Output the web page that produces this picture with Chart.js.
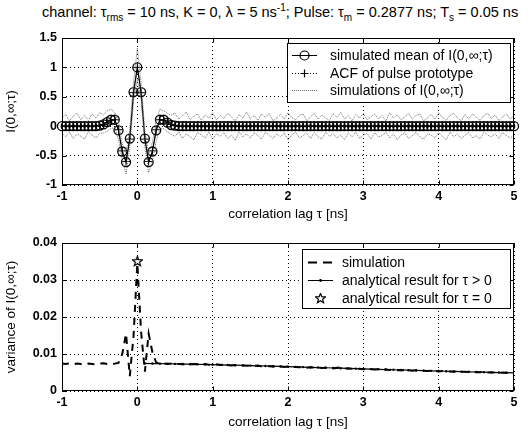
<!DOCTYPE html>
<html>
<head>
<meta charset="utf-8">
<script src="https://cdn.jsdelivr.net/npm/chart.js@4.4.0/dist/chart.umd.min.js"></script>
<style>
  body { margin: 0; background: #fff; width: 531px; height: 435px; overflow: hidden; position: relative; }
  #title { position: absolute; left: 42px; top: 2px; white-space: nowrap; font: 14.5px "Liberation Sans", Arial, sans-serif; color: #000; }
  #title sub, #title sup { font-size: 10px; }
  canvas { position: absolute; left: 0; }
  #c1 { top: 0; }
  #c2 { top: 225px; }
</style>
</head>
<body>
<div id="title">channel: &tau;<sub>rms</sub> = 10 ns, K = 0, &lambda; = 5 ns<sup>-1</sup>; Pulse: &tau;<sub>m</sub> = 0.2877 ns; T<sub>s</sub> = 0.05 ns</div>
<canvas id="c1" width="531" height="225"></canvas>
<canvas id="c2" width="531" height="210"></canvas>
<script>
// SAMPLE GRID (lag tau in ns)
const TAU0 = -1;
const TS = 0.05;

// TOP PLOT DATA
const topYTicks = [-1, -0.5, 0, 0.5, 1, 1.5];
const xTicks = [-1, 0, 1, 2, 3, 4, 5];

const meanI = [
  0,0,0,0,0,0,0,0,0,0,0.01,
  0.03,0.07,0.11,0.11,-0.07,-0.43,-0.61,-0.21,0.58,
  1.0,
  0.58,-0.21,-0.61,-0.43,-0.07,0.11,0.11,0.06,0.02,
  0.01,0,0,0,0,0,0,0,0,0,
  0,0,0,0,0,0,0,0,0,0,
  0,0,0,0,0,0,0,0,0,0,
  0,0,0,0,0,0,0,0,0,0,
  0,0,0,0,0,0,0,0,0,0,
  0,0,0,0,0,0,0,0,0,0,
  0,0,0,0,0,0,0,0,0,0,
  0,0,0,0,0,0,0,0,0,0,
  0,0,0,0,0,0,0,0,0,0,0
];

const pulseACF = [
  0,0,0,0,0,0,0,0,0,0,0.01,
  0.03,0.06,0.1,0.11,-0.06,-0.42,-0.6,-0.22,0.57,
  1.0,
  0.57,-0.22,-0.6,-0.42,-0.06,0.11,0.1,0.06,0.03,
  0.01,0,0,0,0,0,0,0,0,0,
  0,0,0,0,0,0,0,0,0,0,
  0,0,0,0,0,0,0,0,0,0,
  0,0,0,0,0,0,0,0,0,0,
  0,0,0,0,0,0,0,0,0,0,
  0,0,0,0,0,0,0,0,0,0,
  0,0,0,0,0,0,0,0,0,0,
  0,0,0,0,0,0,0,0,0,0,
  0,0,0,0,0,0,0,0,0,0,0
];

const simA = [
  0.14,0.2,0.09,0.17,0.22,0.11,0.18,0.1,0.21,0.14,0.23,
  0.19,0.26,0.29,0.23,0.08,-0.3,-0.45,-0.05,0.74,
  1.33,
  0.72,-0.08,-0.47,-0.28,0.12,0.29,0.26,0.22,0.19,
  0.22,0.12,0.18,0.24,0.11,0.17,0.21,0.1,0.19,0.14,
  0.23,0.11,0.18,0.13,0.22,0.16,0.09,0.2,0.14,0.24,
  0.12,0.18,0.1,0.21,0.15,0.22,0.09,0.14,0.2,0.12,
  0.23,0.15,0.11,0.18,0.21,0.09,0.16,0.22,0.12,0.19,
  0.14,0.1,0.21,0.15,0.24,0.12,0.18,0.09,0.2,0.14,
  0.22,0.11,0.16,0.21,0.12,0.18,0.09,0.23,0.14,0.19,
  0.11,0.16,0.22,0.12,0.18,0.21,0.09,0.14,0.2,0.12,
  0.23,0.15,0.1,0.18,0.22,0.14,0.09,0.2,0.12,0.21,
  0.15,0.1,0.18,0.22,0.13,0.19,0.09,0.16,0.21,0.12,0.18
];

const simB = [
  -0.12,-0.18,-0.1,-0.21,-0.13,-0.17,-0.22,-0.09,-0.15,-0.2,-0.12,
  -0.12,-0.08,-0.04,-0.02,-0.22,-0.58,-0.82,-0.36,0.43,
  0.8,
  0.45,-0.36,-0.79,-0.6,-0.25,-0.05,-0.04,-0.1,-0.14,
  -0.17,-0.1,-0.21,-0.13,-0.18,-0.23,-0.11,-0.15,-0.2,-0.1,
  -0.22,-0.13,-0.17,-0.11,-0.21,-0.15,-0.24,-0.1,-0.18,-0.13,
  -0.2,-0.11,-0.16,-0.22,-0.1,-0.15,-0.21,-0.13,-0.18,-0.11,
  -0.23,-0.15,-0.1,-0.2,-0.16,-0.12,-0.21,-0.11,-0.18,-0.22,
  -0.1,-0.17,-0.13,-0.2,-0.15,-0.23,-0.11,-0.18,-0.1,-0.21,
  -0.15,-0.12,-0.22,-0.11,-0.18,-0.16,-0.1,-0.2,-0.13,-0.23,
  -0.15,-0.11,-0.21,-0.16,-0.1,-0.18,-0.22,-0.13,-0.15,-0.2,
  -0.11,-0.17,-0.23,-0.1,-0.18,-0.13,-0.21,-0.15,-0.11,-0.2,
  -0.16,-0.22,-0.1,-0.15,-0.18,-0.13,-0.21,-0.11,-0.16,-0.2,-0.15
];

// BOTTOM PLOT DATA
const botYTicks = [0, 0.01, 0.02, 0.03, 0.04];

// simulated variance, same grid as above (-1 .. 5 step 0.05)
const simVar = [
  0.0074,0.0073,0.0075,0.0072,0.0074,0.0073,0.0071,0.0074,0.0073,0.0072,
  0.0074,0.0075,0.0073,0.0072,0.0074,0.0076,
  0.0100,0.0155,0.0040,0.0150,
  0.0345,
  0.0160,0.0052,0.0155,0.0105,0.0077,
  0.0074,0.0075,0.0073,0.0074,0.0073,0.0073,0.0072,0.0073,0.0072,0.0073,
  0.0072,0.0071,0.0073,0.0071,0.0071,0.0072,0.0070,0.0071,0.0070,0.0069,
  0.0070,0.0069,0.0069,0.0068,0.0069,0.0068,0.0068,0.0067,0.0068,0.0067,
  0.0066,0.0067,0.0066,0.0065,0.0066,0.0065,0.0065,0.0064,0.0065,0.0063,
  0.0064,0.0063,0.0063,0.0062,0.0063,0.0062,0.0061,0.0063,0.0064,0.0061,
  0.0061,0.0060,0.0061,0.0060,0.0059,0.0060,0.0059,0.0058,0.0059,0.0058,
  0.0058,0.0057,0.0058,0.0056,0.0057,0.0056,0.0056,0.0055,0.0056,0.0055,
  0.0055,0.0054,0.0055,0.0054,0.0053,0.0054,0.0053,0.0053,0.0052,0.0053,
  0.0052,0.0052,0.0051,0.0052,0.0051,0.0051,0.0052,0.0050,0.0050,0.0050,
  0.0049,0.0050,0.0049,0.0049,0.0048
];

// analytical variance for tau > 0, every 0.1 ns from 0.1 to 5
const ANA_STEP = 0.1;
const anaVar = [
  0.00745,0.00742,0.00739,0.00736,0.00732,0.00728,0.00724,0.0072,0.00716,0.00712,
  0.00707,0.00702,0.00697,0.00692,0.00687,0.00681,0.00675,0.0067,0.00664,0.00658,
  0.00652,0.00646,0.0064,0.00634,0.00628,0.00622,0.00616,0.0061,0.00604,0.00598,
  0.00592,0.00586,0.0058,0.00574,0.00568,0.00562,0.00556,0.0055,0.00545,0.0054,
  0.00534,0.00529,0.00524,0.00519,0.00514,0.00509,0.00504,0.00499,0.00494,0.0049
];

const anaZeroTau = [0];
const anaZeroVar = [0.035];

// HELPERS
const FONT = '"Liberation Sans", Arial, Helvetica, sans-serif';

function onGrid(arr) {
  return arr.map((v, i) => ({ x: +(TAU0 + i * TS).toFixed(2), y: v }));
}

function makeStar(size) {
  const c = document.createElement("canvas");
  c.width = c.height = size;
  const g = c.getContext("2d");
  g.beginPath();
  for (let k = 0; k < 10; k++) {
    const r = k % 2 ? size * 0.2 : size * 0.47;
    const a = -Math.PI / 2 + (k * Math.PI) / 5;
    g.lineTo(size / 2 + r * Math.cos(a), size / 2 + r * Math.sin(a));
  }
  g.closePath();
  g.strokeStyle = "#000";
  g.lineWidth = 1.2;
  g.stroke();
  return c;
}
const starImg = makeStar(11);

// frame with inward ticks on all four sides (matlab box)
const framePlugin = {
  id: "frame",
  afterDatasetsDraw(chart) {
    const { ctx, chartArea: a, scales } = chart;
    const L = Math.round(a.left) + 0.5, R = Math.round(a.right) - 0.5;
    const T = Math.round(a.top) + 0.5, B = Math.round(a.bottom) - 0.5;
    ctx.save();
    ctx.strokeStyle = "#000";
    ctx.lineWidth = 1;
    ctx.setLineDash([]);
    ctx.strokeRect(L, T, R - L, B - T);
    ctx.beginPath();
    scales.x.ticks.forEach((t) => {
      const px = Math.round(scales.x.getPixelForValue(t.value)) + 0.5;
      ctx.moveTo(px, B); ctx.lineTo(px, B - 4);
      ctx.moveTo(px, T); ctx.lineTo(px, T + 4);
    });
    scales.y.ticks.forEach((t) => {
      const py = Math.round(scales.y.getPixelForValue(t.value)) + 0.5;
      ctx.moveTo(L, py); ctx.lineTo(L + 4, py);
      ctx.moveTo(R, py); ctx.lineTo(R - 4, py);
    });
    ctx.stroke();
    ctx.restore();
  },
};

// boxed legend drawn inside the axes
const boxLegendPlugin = {
  id: "boxLegend",
  afterDraw(chart, args, opts) {
    if (!opts || !opts.items) return;
    const ctx = chart.ctx;
    ctx.save();
    ctx.fillStyle = "#fff";
    ctx.fillRect(opts.left, opts.top, opts.width, opts.height);
    ctx.strokeStyle = "#000";
    ctx.lineWidth = 1;
    ctx.setLineDash([]);
    ctx.strokeRect(opts.left + 0.5, opts.top + 0.5, opts.width, opts.height);
    ctx.font = "14px " + FONT;
    ctx.textBaseline = "middle";
    opts.items.forEach((it, i) => {
      const y = Math.round(opts.top + opts.rowTop + i * opts.rowGap) + 0.5;
      const x0 = opts.left + opts.sampleX0, x1 = opts.left + opts.sampleX1;
      const xm = (x0 + x1) / 2;
      ctx.strokeStyle = it.color || "#000";
      ctx.lineWidth = it.width || 1;
      ctx.setLineDash(it.dash || []);
      if (it.line !== false) {
        ctx.beginPath(); ctx.moveTo(x0, y); ctx.lineTo(x1, y); ctx.stroke();
      }
      ctx.setLineDash([]);
      ctx.lineWidth = 1.2;
      ctx.strokeStyle = "#000";
      if (it.marker === "circle") {
        ctx.beginPath(); ctx.arc(xm, y, 4.5, 0, Math.PI * 2); ctx.stroke();
      } else if (it.marker === "cross") {
        ctx.beginPath(); ctx.moveTo(xm - 4, y); ctx.lineTo(xm + 4, y);
        ctx.moveTo(xm, y - 4); ctx.lineTo(xm, y + 4); ctx.stroke();
      } else if (it.marker === "dot") {
        ctx.fillStyle = "#000";
        ctx.beginPath(); ctx.arc(xm, y, 1.4, 0, Math.PI * 2); ctx.fill();
      } else if (it.marker === "star") {
        ctx.drawImage(starImg, xm - 5.5, y - 5.5);
      }
      ctx.fillStyle = "#000";
      ctx.fillText(it.label, opts.left + opts.textX, y + 1);
    });
    ctx.restore();
  },
};

function axisCommon(ticksArr, title, isX, titlePad) {
  return {
    type: "linear",
    min: ticksArr[0],
    max: ticksArr[ticksArr.length - 1],
    afterBuildTicks: (s) => { s.ticks = ticksArr.map((v) => ({ value: v })); },
    ticks: {
      color: "#000",
      font: { family: FONT, size: 12.5, weight: "bold" },
      padding: isX ? 4 : 5,
      maxRotation: 0,
      autoSkip: false,
      callback: (v) => String(v),
    },
    grid: { color: "#000", lineWidth: 1, drawTicks: false },
    border: { display: false, dash: [1, 3] },
    title: {
      display: true,
      text: title,
      color: "#000",
      font: { family: FONT, size: 13.5 },
      padding: titlePad,
    },
  };
}

Chart.defaults.font.family = FONT;

// TOP CHART
const xTop = axisCommon(xTicks, "correlation lag \u03c4 [ns]", true, { top: 0, bottom: 3 });
xTop.afterFit = (s) => { s.height = 40; };
const yTop = axisCommon(topYTicks, "I(0,\u221e;\u03c4)", false, { top: 3, bottom: 0 });
yTop.afterFit = (s) => { s.width = 62; };

new Chart(document.getElementById("c1"), {
  type: "line",
  data: {
    datasets: [
      {
        label: "simulations of I(0,\u221e;\u03c4)",
        data: onGrid(simA),
        borderColor: "#6e6e6e",
        borderWidth: 1,
        borderDash: [1, 1],
        pointRadius: 0,
      },
      {
        label: "simulations of I(0,\u221e;\u03c4) (2)",
        data: onGrid(simB),
        borderColor: "#6e6e6e",
        borderWidth: 1,
        borderDash: [1, 1],
        pointRadius: 0,
      },
      {
        label: "ACF of pulse prototype",
        data: onGrid(pulseACF),
        borderColor: "#000",
        borderWidth: 1,
        borderDash: [1, 2],
        pointStyle: "cross",
        pointRadius: 4,
        pointBorderWidth: 1,
        pointBorderColor: "#000",
      },
      {
        label: "simulated mean of I(0,\u221e;\u03c4)",
        data: onGrid(meanI),
        borderColor: "#000",
        borderWidth: 1.2,
        pointStyle: "circle",
        pointRadius: 4.5,
        pointBorderWidth: 1.3,
        pointBorderColor: "#000",
        pointBackgroundColor: "rgba(0,0,0,0)",
        clip: 6,
      },
    ],
  },
  options: {
    responsive: false,
    animation: false,
    devicePixelRatio: 1,
    layout: { padding: { top: 38, right: 17, left: 0, bottom: 0 } },
    scales: { x: xTop, y: yTop },
    plugins: {
      legend: { display: false },
      tooltip: { enabled: false },
      boxLegend: {
        left: 287, top: 43, width: 223, height: 59,
        rowTop: 12, rowGap: 17.5,
        sampleX0: 5, sampleX1: 30, textX: 43,
        items: [
          { label: "simulated mean of I(0,\u221e;\u03c4)", marker: "circle" },
          { label: "ACF of pulse prototype", marker: "cross", dash: [1, 2] },
          { label: "simulations of I(0,\u221e;\u03c4)", color: "#6e6e6e", dash: [1, 1] },
        ],
      },
    },
  },
  plugins: [framePlugin, boxLegendPlugin],
});

// BOTTOM CHART
const xBot = axisCommon(xTicks, "correlation lag \u03c4 [ns]", true, { top: 0, bottom: 5 });
xBot.afterFit = (s) => { s.height = 44; };
const yBot = axisCommon(botYTicks, "variance of I(0,\u221e;\u03c4)", false, { top: 3, bottom: 0 });
yBot.afterFit = (s) => { s.width = 62; };

new Chart(document.getElementById("c2"), {
  type: "line",
  data: {
    datasets: [
      {
        label: "simulation",
        data: onGrid(simVar),
        borderColor: "#000",
        borderWidth: 2,
        borderDash: [7, 6],
        pointRadius: 0,
      },
      {
        label: "analytical result for \u03c4 > 0",
        data: anaVar.map((v, i) => ({ x: +((i + 1) * ANA_STEP).toFixed(1), y: v })),
        borderColor: "#000",
        borderWidth: 1.2,
        pointStyle: "circle",
        pointRadius: 1.2,
        pointBorderWidth: 0,
        pointBackgroundColor: "#000",
      },
      {
        label: "analytical result for \u03c4 = 0",
        data: anaZeroTau.map((t, i) => ({ x: t, y: anaZeroVar[i] })),
        showLine: false,
        pointStyle: starImg,
        pointRadius: 5,
      },
    ],
  },
  options: {
    responsive: false,
    animation: false,
    devicePixelRatio: 1,
    layout: { padding: { top: 18, right: 17, left: 0, bottom: 0 } },
    scales: { x: xBot, y: yBot },
    plugins: {
      legend: { display: false },
      tooltip: { enabled: false },
      boxLegend: {
        left: 302, top: 24, width: 208, height: 59,
        rowTop: 13, rowGap: 18,
        sampleX0: 6, sampleX1: 31, textX: 40,
        items: [
          { label: "simulation", dash: [9, 6], width: 2 },
          { label: "analytical result for \u03c4 > 0", marker: "dot" },
          { label: "analytical result for \u03c4 = 0", marker: "star", line: false },
        ],
      },
    },
  },
  plugins: [framePlugin, boxLegendPlugin],
});
</script>
</body>
</html>
